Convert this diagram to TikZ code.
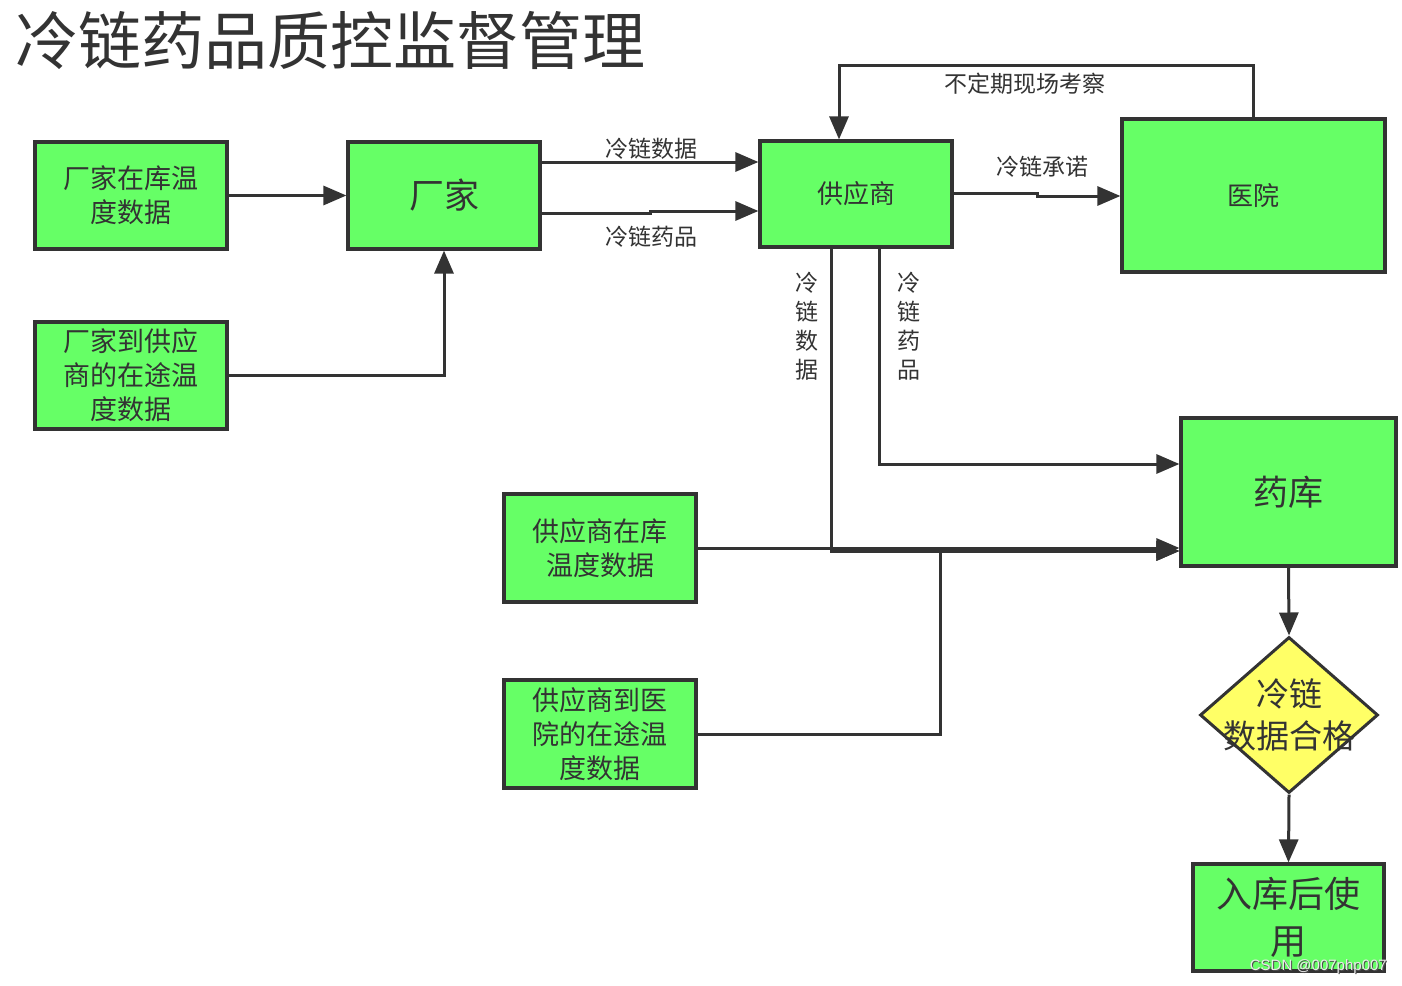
\documentclass[tikz,border=0pt]{standalone}
\usepackage{fontspec}
\newfontfamily\cjk{Noto Sans CJK SC}
\newfontfamily\marksans{Liberation Sans}
\usetikzlibrary{arrows.meta,shapes.geometric}
\definecolor{ink}{HTML}{333333}
\definecolor{boxgreen}{HTML}{66FF66}
\definecolor{boxyellow}{HTML}{FFFF66}

\begin{document}
\begin{tikzpicture}[x=1pt,y=-1pt,
  box/.style={draw=ink, line width=3.2pt, fill=boxgreen, inner sep=0pt, align=center,
    text=ink, minimum width=192pt, minimum height=107pt,
    font=\cjk\fontsize{27}{34}\selectfont},
  arr/.style={draw=ink, line width=3pt, -{Triangle[length=23pt,width=19pt]}},
  lbl/.style={text=ink, font=\cjk\fontsize{23}{29}\selectfont, inner sep=0pt, align=center},
  mark text/.style={font=\marksans\fontsize{15}{15}\selectfont, anchor=east, inner sep=0pt},
]
\fill[white] (0,0) rectangle (1402,985);
\useasboundingbox (0,0) rectangle (1402,985);

% title
\node[anchor=west, text=ink, font=\cjk\fontsize{63}{63}\selectfont, inner sep=0pt] (title) at (15,40) {冷链药品质控监督管理};

% boxes
\node[box] (f1) at (131,195.5) {厂家在库温\\度数据};
\node[box] (f2) at (131,375.5) {厂家到供应\\商的在途温\\度数据};
\node[box, font=\cjk\fontsize{35}{40}\selectfont] (cj) at (444,195.5) {厂家};
\node[box, minimum height=106pt, font=\cjk\fontsize{26}{32}\selectfont] (gys) at (856,194) {供应商};
\node[box, minimum width=263pt, minimum height=153pt, font=\cjk\fontsize{26}{32}\selectfont] (yy) at (1253.5,195.5) {医院};
\node[box, minimum width=215pt, minimum height=148pt, font=\cjk\fontsize{35}{40}\selectfont] (yk) at (1288.5,492) {药库};
\node[box, minimum height=108pt] (s1) at (600,548) {供应商在库\\温度数据};
\node[box, minimum height=108pt] (s2) at (600,734) {供应商到医\\院的在途温\\度数据};
\node[draw=ink, line width=3pt, fill=boxyellow, diamond, aspect=1.141,
  minimum width=178pt, minimum height=156pt, inner sep=0pt] (dm) at (1289,715) {};
\node[text=ink, font=\cjk\fontsize{33}{42}\selectfont, align=center, inner sep=0pt] (dmt) at (dm.center) {冷链\\数据合格};
\node[box, minimum width=191pt, font=\cjk\fontsize{36}{47}\selectfont] (rk) at (1288.5,917.5) {入库后使\\用};

% connector labels
\node[lbl] (l1) at (651,149) {冷链数据};
\node[lbl] (l2) at (651,237) {冷链药品};
\node[lbl] (l3) at (1042,167) {冷链承诺};
\node[lbl] (l4) at (1025,84) {不定期现场考察};
\node[lbl] (l5) at (807,326) {冷\\链\\数\\据};
\node[lbl] (l6) at (909,326) {冷\\链\\药\\品};

% connectors
\draw[arr] (f1.east) -- (cj.west);
\draw[arr] (f2.east) -| (cj.south);
\draw[arr] (cj.east |- 0,162) -- (gys.west |- 0,162);
\coordinate (j1) at (650,213);
\coordinate (j2) at (650,211);
\draw[arr] (cj.east |- j1) -- (j1) -- (j2) -- (gys.west |- j2);
\coordinate (j3) at (1037,193);
\coordinate (j4) at (1037,196);
\draw[arr] (gys.east |- j3) -- (j3) -- (j4) -- (yy.west |- j4);
\coordinate (top) at (839,65);
\draw[arr] (yy.north) |- (top) -- (top |- gys.north);
\draw[arr] (gys.south -| 879,0) |- (yk.west |- 0,464);
\draw[arr] (s1.east) -- (yk.west |- s1.east);
\draw[arr] (s2.east) -| (940,551) -- (yk.west |- 0,551);
\draw[arr] (gys.south -| 831,0) |- (yk.west |- 0,551);
\draw[arr] (yk.south) -- (dm.north);
\draw[arr] (dm.south) -- (rk.north);

% watermark: light text over a dark shadow
\node[mark text, text=black!70] (wms) at (1388,968) {CSDN @007php007};
\node[mark text, text=white!92!black] (wm) at (1387,967) {CSDN @007php007};
\end{tikzpicture}
\end{document}
